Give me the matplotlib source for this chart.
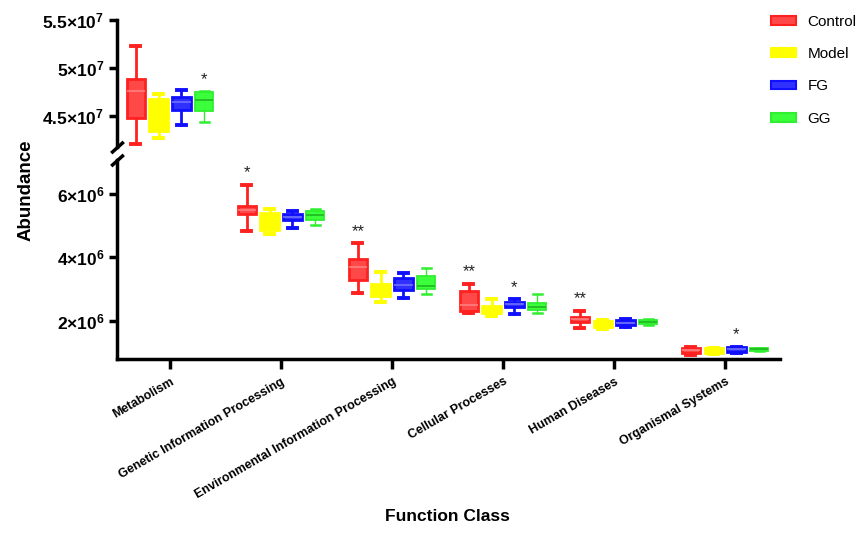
import numpy as np
import matplotlib
matplotlib.use('Agg')
import matplotlib.pyplot as plt
from matplotlib.patches import Patch

plt.rcParams['font.family'] = ['Liberation Sans', 'DejaVu Sans']
plt.rcParams['mathtext.fontset'] = 'custom'
plt.rcParams['mathtext.rm'] = 'Liberation Sans'
plt.rcParams['mathtext.bf'] = 'Liberation Sans:bold'

classes = ['Metabolism', 'Genetic Information Processing',
           'Environmental Information Processing', 'Cellular Processes',
           'Human Diseases', 'Organismal Systems']
groups = ['Control', 'Model', 'FG', 'GG']

# whisker low, Q1, median, Q3, whisker high for each function class
control = [[4.21e7, 4.48e7, 4.76e7, 4.89e7, 5.23e7],
           [4.83e6, 5.38e6, 5.49e6, 5.63e6, 6.29e6],
           [2.88e6, 3.28e6, 3.71e6, 3.94e6, 4.46e6],
           [2.26e6, 2.32e6, 2.50e6, 2.94e6, 3.17e6],
           [1.78e6, 1.97e6, 2.05e6, 2.12e6, 2.32e6],
           [0.92e6, 1.00e6, 1.08e6, 1.15e6, 1.19e6]]
model = [[4.275e7, 4.345e7, 4.56e7, 4.68e7, 4.73e7],
         [4.75e6, 4.87e6, 5.15e6, 5.41e6, 5.53e6],
         [2.58e6, 2.80e6, 3.00e6, 3.17e6, 3.55e6],
         [2.16e6, 2.24e6, 2.38e6, 2.47e6, 2.68e6],
         [1.74e6, 1.80e6, 1.90e6, 1.99e6, 2.03e6],
         [0.97e6, 0.98e6, 1.07e6, 1.15e6, 1.16e6]]
fg = [[4.41e7, 4.56e7, 4.65e7, 4.70e7, 4.77e7],
      [4.93e6, 5.18e6, 5.28e6, 5.37e6, 5.46e6],
      [2.72e6, 2.98e6, 3.13e6, 3.35e6, 3.50e6],
      [2.22e6, 2.45e6, 2.52e6, 2.60e6, 2.68e6],
      [1.80e6, 1.88e6, 1.94e6, 2.02e6, 2.05e6],
      [1.00e6, 1.01e6, 1.10e6, 1.18e6, 1.19e6]]
gg = [[4.435e7, 4.55e7, 4.665e7, 4.75e7, 4.76e7],
      [5.03e6, 5.17e6, 5.33e6, 5.46e6, 5.51e6],
      [2.85e6, 3.00e6, 3.10e6, 3.40e6, 3.67e6],
      [2.25e6, 2.35e6, 2.45e6, 2.56e6, 2.86e6],
      [1.86e6, 1.91e6, 1.98e6, 2.02e6, 2.05e6],
      [1.05e6, 1.06e6, 1.10e6, 1.15e6, 1.16e6]]

# significance marks: (class index, group, label)
signif = [(0, 'GG', '*'), (1, 'Control', '*'), (2, 'Control', '**'),
          (3, 'Control', '**'), (3, 'FG', '*'), (4, 'Control', '**'),
          (5, 'FG', '*')]

data = {'Control': control, 'Model': model, 'FG': fg, 'GG': gg}
styles = {
    'Control': dict(face=(1, 0.1, 0.1, 0.8), edge='#ff2020', med='#ff7a7a', lw=2.0, wlw=2.0),
    'Model': dict(face='#ffff00', edge='#ffff00', med='#ffff00', lw=2.0, wlw=2.0),
    'FG': dict(face=(0.1, 0.1, 1, 0.9), edge='#1010ff', med='#6a6aff', lw=2.0, wlw=2.0),
    'GG': dict(face='#3cff3c', edge='#30ee30', med='#22bb22', lw=1.3, wlw=1.0),
}

x = np.arange(len(classes))
step = 0.205
width = 0.165

fig = plt.figure(figsize=(8.58, 5.35), dpi=100)
ax_top = fig.add_axes([0.1364, 0.7252, 0.7727, 0.2374])
ax_bot = fig.add_axes([0.1364, 0.3290, 0.7727, 0.3720])

for ax in (ax_top, ax_bot):
    for i, g in enumerate(groups):
        st = styles[g]
        stats = [dict(whislo=v[0], q1=v[1], med=v[2], q3=v[3], whishi=v[4], fliers=[])
                 for v in data[g]]
        ax.bxp(stats, positions=x + (i - 1.5) * step, widths=width,
               capwidths=0.08, showfliers=False, patch_artist=True,
               manage_ticks=False,
               boxprops=dict(facecolor=st['face'], edgecolor=st['edge'], linewidth=st['lw']),
               whiskerprops=dict(color=st['edge'], linewidth=st['wlw']),
               capprops=dict(color=st['edge'], linewidth=st['wlw'] + 0.8),
               medianprops=dict(color=st['med'], linewidth=1.3))
    ax.set_xlim(-0.477, 5.495)
    for s in ('top', 'right'):
        ax.spines[s].set_visible(False)
    ax.spines['left'].set_linewidth(2.5)
    ax.tick_params(axis='y', width=2.5, length=6, labelsize=12.5, pad=3)

ax_top.set_ylim(4.18e7, 5.5e7)
ax_top.spines['bottom'].set_visible(False)
ax_top.set_xticks([])
ax_top.set_yticks([4.5e7, 5e7, 5.5e7])
ax_top.set_yticklabels([r'$\mathbf{4.5{\times}10^{7}}$', r'$\mathbf{5{\times}10^{7}}$',
                        r'$\mathbf{5.5{\times}10^{7}}$'])

ax_bot.set_ylim(0.8e6, 7.07e6)
ax_bot.spines['bottom'].set_linewidth(2.5)
ax_bot.set_yticks([2e6, 4e6, 6e6])
ax_bot.set_yticklabels([r'$\mathbf{2{\times}10^{6}}$', r'$\mathbf{4{\times}10^{6}}$',
                        r'$\mathbf{6{\times}10^{6}}$'])
ax_bot.set_xticks(x)
ax_bot.set_xticklabels(classes, rotation=30, ha='right', rotation_mode='anchor',
                       fontsize=9, fontweight='bold')
ax_bot.tick_params(axis='x', width=2.5, length=7, pad=5)

# axis break slashes
kw = dict(marker=[(-1, -0.9), (1, 0.9)], markersize=9, linestyle='none',
          color='k', mew=2.5, clip_on=False)
ax_top.plot([0], [0], transform=ax_top.transAxes, **kw)
ax_bot.plot([0], [1], transform=ax_bot.transAxes, **kw)

# significance asterisks above the upper whisker
for ci, g, lab in signif:
    gi = groups.index(g)
    ymax = data[g][ci][4]
    ax = ax_top if ci == 0 else ax_bot
    ax.annotate(lab, (x[ci] + (gi - 1.5) * step, ymax), xytext=(0, 3),
                textcoords='offset points', ha='center', va='bottom',
                fontsize=12, color='#222222')

fig.text(0.03, 0.645, 'Abundance', rotation=90, ha='center', va='center',
         fontsize=13.5, fontweight='bold')
fig.text(0.522, 0.02, 'Function Class', ha='center', va='bottom',
         fontsize=12.5, fontweight='bold')

handles = [Patch(facecolor=styles[g]['face'], edgecolor=styles[g]['edge'],
                 linewidth=1.5, label=g) for g in groups]
fig.legend(handles=handles, loc='upper left', bbox_to_anchor=(0.895, 0.978),
           frameon=False, fontsize=11, handlelength=1.65, handleheight=0.5,
           labelspacing=1.2, handletextpad=0.75, borderpad=0.2, borderaxespad=0)

fig.savefig('out.png', dpi=100)
